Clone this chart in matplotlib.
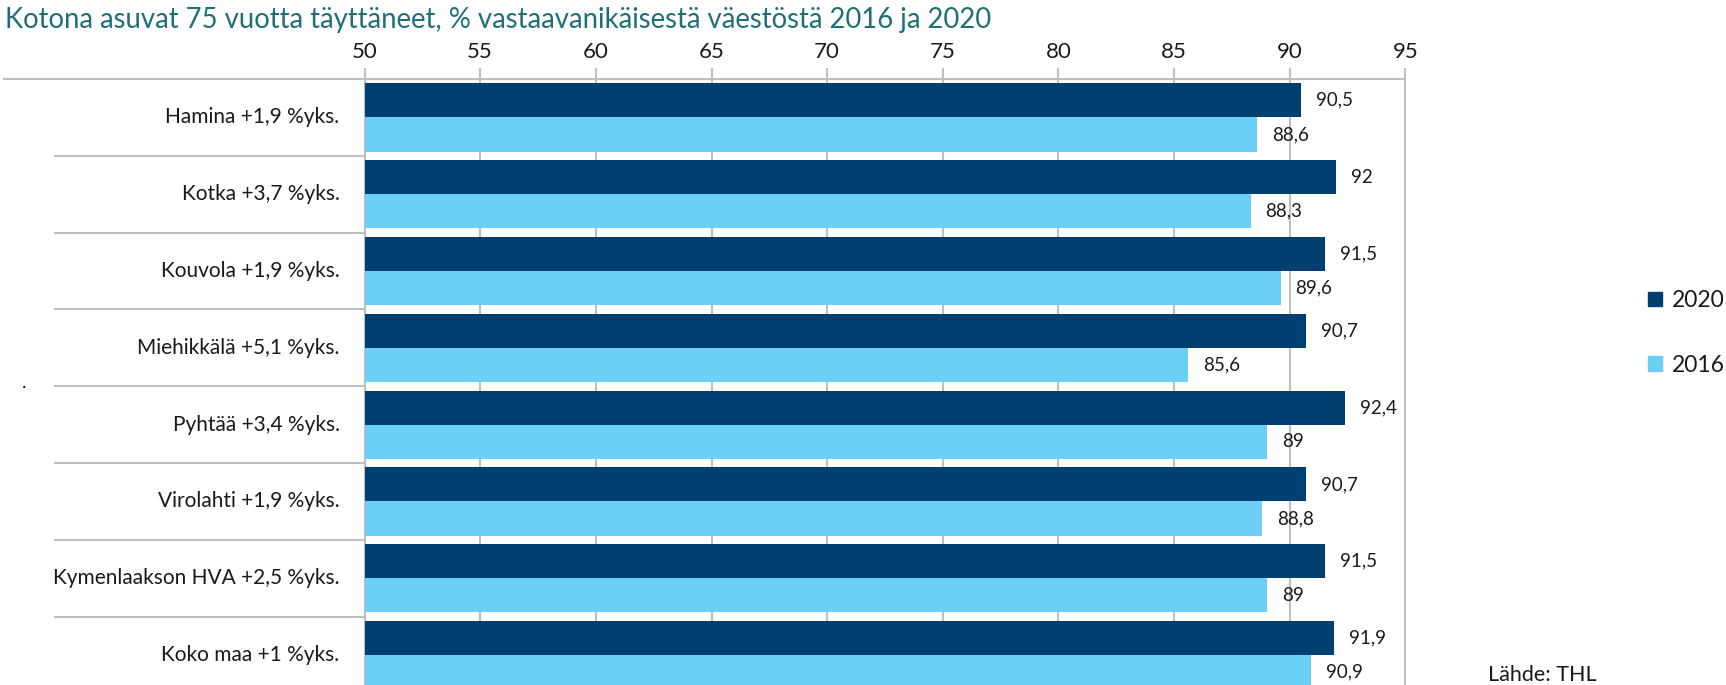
import matplotlib
matplotlib.use('Agg')
import matplotlib.pyplot as plt
from matplotlib.patches import Patch
from matplotlib.lines import Line2D
import numpy as np

# data
categories = ['Hamina +1,9 %yks.', 'Kotka +3,7 %yks.', 'Kouvola +1,9 %yks.', 'Miehikkälä +5,1 %yks.',
              'Pyhtää +3,4 %yks.', 'Virolahti +1,9 %yks.', 'Kymenlaakson HVA +2,5 %yks.', 'Koko maa +1 %yks.']
values_2020 = [90.5, 92, 91.5, 90.7, 92.4, 90.7, 91.5, 91.9]
values_2016 = [88.6, 88.3, 89.6, 85.6, 89, 88.8, 89, 90.9]
x_ticks = [50, 55, 60, 65, 70, 75, 80, 85, 90, 95]

dark = '#003F6F'
light = '#6CCFF6'
grid_col = '#BFBFBF'
txt_col = '#1A1A1A'
plt.rcParams['font.family'] = ['Lato', 'DejaVu Sans']

W, H = 1726, 685
fig = plt.figure(figsize=(W / 100, H / 100), dpi=100)

# axes position in pixels (plot area runs off the bottom of the image)
left_px, right_px, top_px, bottom_px = 364.5, 1405.5, 79, 693.5
ax = fig.add_axes([left_px / W, 1 - bottom_px / H, (right_px - left_px) / W, (bottom_px - top_px) / H])

y = np.arange(len(categories))
bh = 0.444
ax.barh(y - 0.222, np.array(values_2020) - 50, left=50, height=bh, color=dark, zorder=3)
ax.barh(y + 0.222, np.array(values_2016) - 50, left=50, height=bh, color=light, zorder=3)

def fmt(v):
    return ('%g' % v).replace('.', ',')

for i in range(len(categories)):
    ax.annotate(fmt(values_2020[i]), (values_2020[i], i - 0.222), xytext=(15, 0), textcoords='offset pixels',
                va='center', ha='left', fontsize=13.5, color=txt_col, zorder=4)
    ax.annotate(fmt(values_2016[i]), (values_2016[i], i + 0.222), xytext=(15, 0), textcoords='offset pixels',
                va='center', ha='left', fontsize=13.5, color=txt_col, zorder=4)

ax.set_xlim(50, 95)
ax.set_ylim(len(categories) - 0.5, -0.5)
ax.set_xticks(x_ticks)
ax.xaxis.tick_top()
ax.tick_params(axis='x', direction='out', length=8, width=1.5, color=grid_col, labelsize=16,
               labelcolor=txt_col, pad=4)
ax.set_yticks([])
ax.grid(axis='x', color=grid_col, linewidth=1.5, zorder=0)
for s in ['right', 'bottom']:
    ax.spines[s].set_visible(False)
for s in ['top', 'left']:
    ax.spines[s].set_color(grid_col)
    ax.spines[s].set_linewidth(1.5)

# category labels and separator lines on the left
tr = ax.get_yaxis_transform()
x_sep = (55 - left_px) / (right_px - left_px)
x_top = (4 - left_px) / (right_px - left_px)
ax.add_line(Line2D([x_top, 0], [-0.5, -0.5], transform=tr, color=grid_col, linewidth=1.5, clip_on=False))
for i, cat in enumerate(categories):
    ax.text(-25 / (right_px - left_px), i, cat, transform=tr, ha='right', va='center', fontsize=15, color=txt_col)
    if i < len(categories) - 1:
        ax.add_line(Line2D([x_sep, 0], [i + 0.5, i + 0.5], transform=tr, color=grid_col, linewidth=1.5, clip_on=False))

fig.text(5 / W, 1 - 20 / H, 'Kotona asuvat 75 vuotta täyttäneet, % vastaavanikäisestä väestöstä 2016 ja 2020',
         ha='left', va='center', fontsize=19.8, color='#1F6F78')
fig.text(24 / W, 1 - 383 / H, '.', ha='center', va='center', fontsize=14, color=txt_col)
fig.text(1488 / W, 1 - 675 / H, 'Lähde: THL', ha='left', va='center', fontsize=15.5, color=txt_col)

handles = [Patch(color=dark, label='2020'), Patch(color=light, label='2016')]
fig.legend(handles=handles, loc='center left', bbox_to_anchor=(1648 / W, 1 - 333 / H), frameon=False,
           fontsize=16.5, handlelength=0.6, handleheight=0.6, handletextpad=0.45, labelspacing=1.9,
           labelcolor=txt_col, borderaxespad=0, borderpad=0)

fig.savefig('out.png', dpi=100)
